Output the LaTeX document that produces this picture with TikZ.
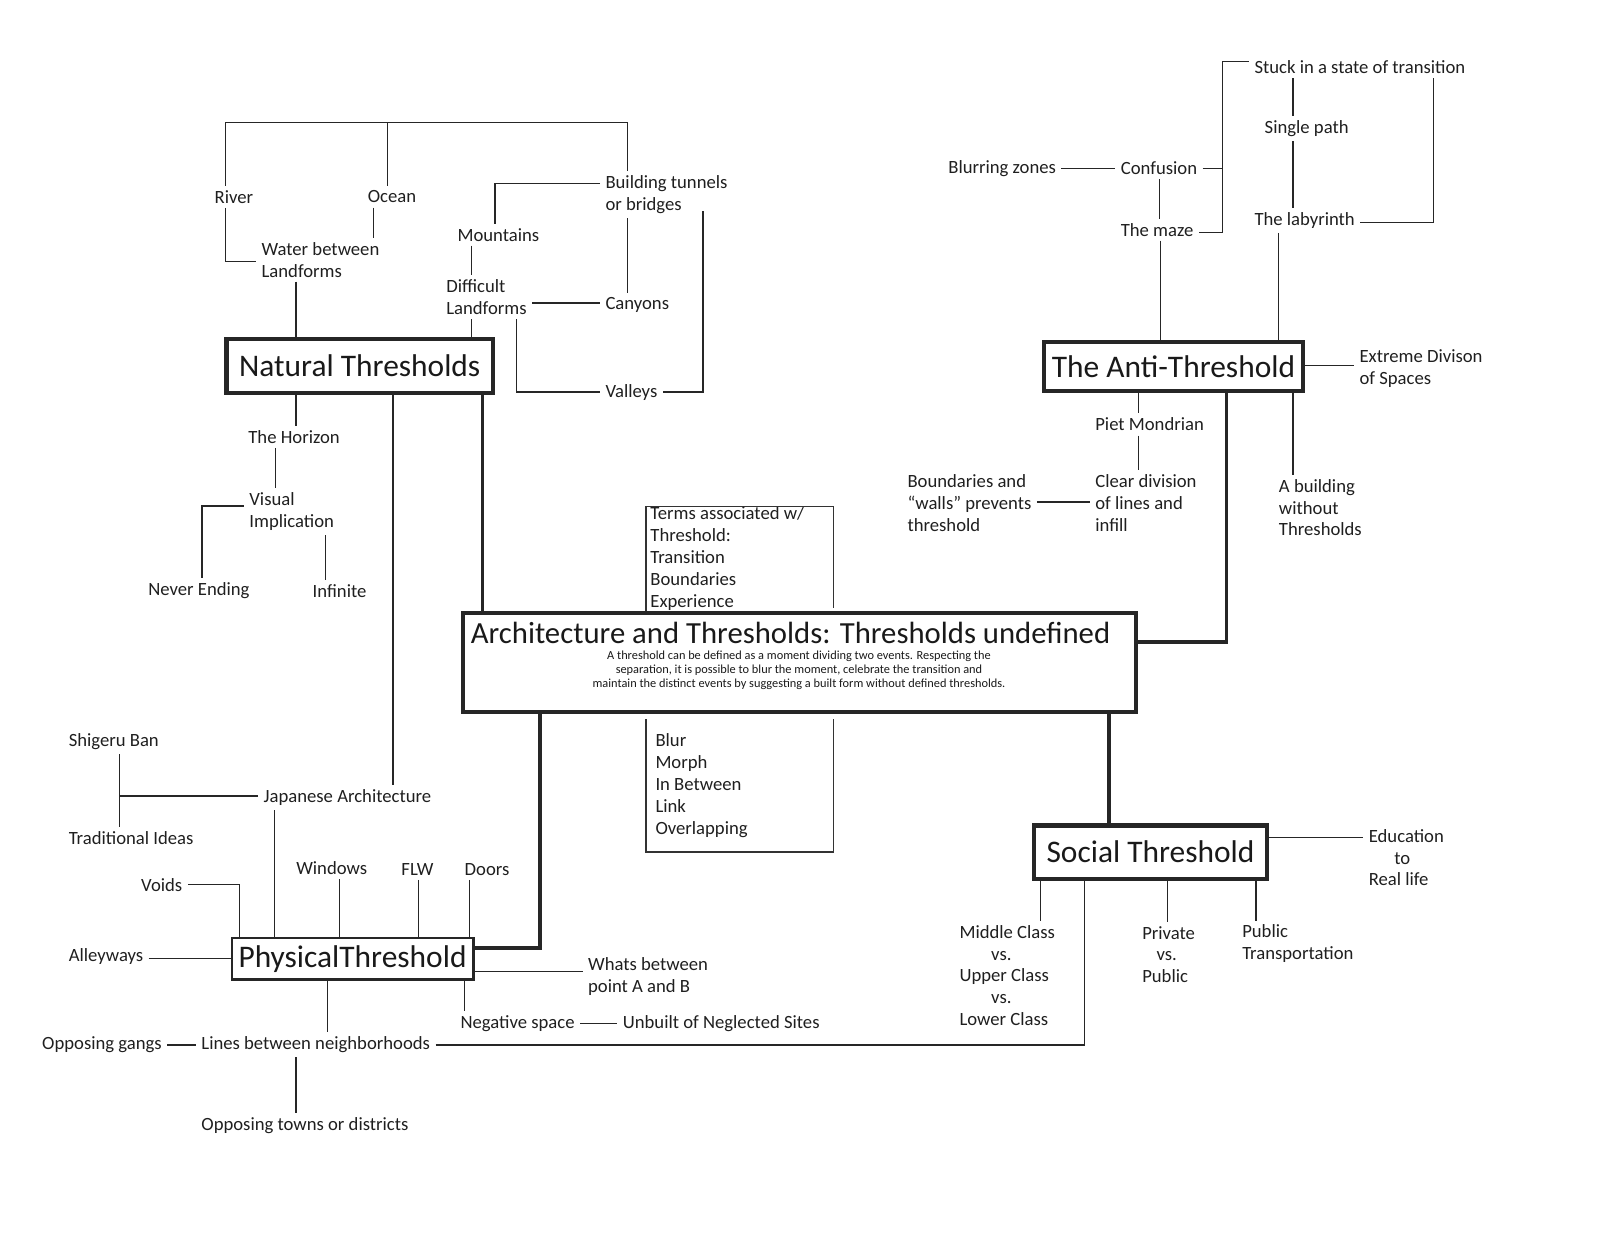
\documentclass[tikz,border=0pt]{standalone}
\usepackage{fontspec}
\setmainfont{Carlito}
\begin{document}
\begin{tikzpicture}[x=0.5pt,y=-0.5pt,
  lbl/.style={font=\fontsize{9.15}{10.7}\selectfont, inner xsep=2.5pt, inner ysep=2pt, xshift=-2.5pt, align=left, anchor=west, text=black!88},
  termtxt/.style={font=\fontsize{9.15}{10.7}\selectfont, inner sep=0pt, align=left, anchor=west, text=black!88},
  bigbox/.style={draw=black!85, line width=2pt, inner sep=0pt, font=\fontsize{15.4}{18}\selectfont, text=black!90},
  conn/.style={draw=black!85, line width=0.65pt},
  thickconn/.style={draw=black!85, line width=1.8pt},
  termline/.style={draw=black!80, line width=0.6pt}]
\useasboundingbox (0,0) rectangle (1568,1211.3);

% ---------- main boxes ----------
\node[bigbox, minimum width=130.5pt, minimum height=26.5pt] (nat) at (352.5,358.5) {Natural Thresholds};
\node[bigbox, minimum width=127pt, minimum height=24pt] (anti) at (1150,359) {The Anti-Threshold};
\node[bigbox, minimum width=329.5pt, minimum height=48.5pt] (main) at (783.5,649.5) {};
\node[font=\fontsize{15.05}{18}\selectfont, inner sep=0pt, anchor=west, text=black!90] (mainT) at (461,620) {Architecture and Thresholds: Thresholds undefined};
\node[font=\fontsize{6.05}{7}\selectfont, inner sep=0pt, align=center, text=black!90] (mainD) at (783,657) {A threshold can be defined as a moment dividing two events. Respecting the\\separation, it is possible to blur the moment, celebrate the transition and\\maintain the distinct events by suggesting a built form without defined thresholds.};
\node[bigbox, minimum width=114.5pt, minimum height=26pt] (social) at (1127.5,835) {Social Threshold};
\node[bigbox, line width=1.1pt, minimum width=118.5pt, minimum height=20.5pt] (phys) at (345.5,939.5) {PhysicalThreshold};

% ---------- terms boxes ----------
\node[termtxt] (terms) at (637,547.5) {Terms associated w/\\Threshold:\\Transition\\Boundaries\\Experience};
\node[termtxt] (blurlist) at (642,770) {Blur\\Morph\\In Between\\Link\\Overlapping};
\coordinate (tl) at (633,496);
\coordinate (tr) at (817,496);
\coordinate (bl) at (633,835);
\coordinate (br) at (817,835);
\draw[termline] (main.north -| tl) -- (tl) -- (tr) -- (817,596);
\draw[termline] (633,705) -- (bl) -- (br) -- (817,705);

% ---------- natural labels ----------
\node[lbl] (river) at (210,193) {River};
\node[lbl] (ocean) at (360,193) {Ocean};
\node[lbl] (water) at (256,254.5) {Water between\\Landforms};
\node[lbl] (mount) at (448,230) {Mountains};
\node[lbl] (diff) at (437,291.5) {Difficult\\Landforms};
\node[lbl] (build) at (593,191) {Building tunnels\\or bridges};
\node[lbl] (canyon) at (593,299) {Canyons};
\node[lbl] (valley) at (593,385) {Valleys};
\node[lbl] (horizon) at (243,428) {The Horizon};
\node[lbl] (visual) at (244,501.5) {Visual\\Implication};
\node[lbl] (never) at (145,579) {Never Ending};
\node[lbl] (infin) at (306,579) {Infinite};
\node[lbl] (jap) at (258,782) {Japanese Architecture};
\node[lbl] (shig) at (67,727) {Shigeru Ban};
\node[lbl] (trad) at (67,821) {Traditional Ideas};

% ---------- physical labels ----------
\node[lbl] (voids) at (138,867) {Voids};
\node[lbl] (windows) at (290,851) {Windows};
\node[lbl] (flw) at (393,852) {FLW};
\node[lbl] (doors) at (455,852) {Doors};
\node[lbl] (alley) at (67,937) {Alleyways};
\node[lbl] (whats) at (576,957) {Whats between\\point A and B};
\node[lbl] (neg) at (451,1003) {Negative space};
\node[lbl] (unbuilt) at (610,1003) {Unbuilt of Neglected Sites};
\node[lbl] (linesN) at (197,1024) {Lines between neighborhoods};
\node[lbl] (gangs) at (41,1024) {Opposing gangs};
\node[lbl] (towns) at (197,1103) {Opposing towns or districts};

% ---------- anti labels ----------
\node[lbl] (stuck) at (1229,66) {Stuck in a state of transition};
\node[lbl] (single) at (1239,126) {Single path};
\node[lbl] (blur) at (929,165) {Blurring zones};
\node[lbl] (conf) at (1098,165) {Confusion};
\node[lbl] (maze) at (1098,225) {The maze};
\node[lbl] (laby) at (1229,216) {The labyrinth};
\node[lbl] (extreme) at (1332,361.5) {Extreme Divison\\of Spaces};
\node[lbl] (piet) at (1073,416) {Piet Mondrian};
\node[lbl] (clear) at (1073,493) {Clear division\\of lines and\\infill};
\node[lbl] (bound) at (889,493) {Boundaries and\\“walls” prevents\\threshold};
\node[lbl] (abuild) at (1253,497.5) {A building\\without\\Thresholds};

% ---------- social labels ----------
\node[lbl] (educ) at (1341,840.5) {Education\\\hspace*{12.5pt}to\\Real life};
\node[lbl] (middle) at (940,956) {Middle Class\\\hspace*{15.5pt}vs.\\Upper Class\\\hspace*{15.5pt}vs.\\Lower Class};
\node[lbl] (private) at (1119,935.5) {Private\\\hspace*{7pt}vs.\\Public};
\node[lbl] (pubtr) at (1217,925) {Public\\Transportation};

% ---------- thick connectors ----------
\draw[thickconn] (nat.south -| 473,0) -- (main.north -| 473,0);
\draw[thickconn] (anti.south -| 1202,0) -- (1202,629) -- (main.east |- 0,629);
\draw[thickconn] (main.south -| 529,0) -- (529,929) -- (phys.east |- 0,929);
\draw[thickconn] (main.south -| 1087,0) -- (social.north -| 1087,0);

% ---------- natural connectors ----------
\draw[conn] (river.north -| 221,0) -- (221,120) -- (615,120) -- (build.north -| 615,0);
\draw[conn] (380,120) -- (ocean.north -| 380,0);
\draw[conn] (river.south -| 221,0) -- (221,256) -- (water.west |- 0,256);
\draw[conn] (ocean.south -| 366,0) -- (water.north -| 366,0);
\draw[conn] (water.south -| 290,0) -- (nat.north -| 290,0);
\draw[conn] (build.west |- 0,180) -- (485,180) -- (mount.north -| 485,0);
\draw[conn] (mount.south -| 462,0) -- (diff.north -| 462,0);
\draw[conn] (diff.south -| 462,0) -- (nat.north -| 462,0);
\draw[conn] (diff.east |- 0,297) -- (canyon.west |- 0,297);
\draw[conn] (build.south -| 615,0) -- (canyon.north -| 615,0);
\draw[conn] (diff.south -| 506,0) -- (506,384) -- (valley.west |- 0,384);
\draw[conn] (689,207) -- (689,384) -- (valley.east |- 0,384);
\draw[conn] (nat.south -| 290,0) -- (horizon.north -| 290,0);
\draw[conn] (horizon.south -| 270,0) -- (visual.north -| 270,0);
\draw[conn] (visual.west |- 0,496) -- (198,496) -- (never.north -| 198,0);
\draw[conn] (visual.south -| 319,0) -- (infin.north -| 319,0);
\draw[conn] (nat.south -| 385,0) -- (jap.north -| 385,0);
\draw[conn] (jap.west |- 0,780) -- (117,780);
\draw[conn] (shig.south -| 117,0) -- (trad.north -| 117,0);
\draw[conn] (jap.south -| 269,0) -- (phys.north -| 269,0);

% ---------- physical connectors ----------
\draw[conn] (voids.east |- 0,867) -- (235,867) -- (phys.north -| 235,0);
\draw[conn] (windows.south -| 333,0) -- (phys.north -| 333,0);
\draw[conn] (flw.south -| 410,0) -- (phys.north -| 410,0);
\draw[conn] (doors.south -| 460,0) -- (phys.north -| 460,0);
\draw[conn] (alley.east |- 0,939) -- (phys.west |- 0,939);
\draw[conn] (phys.east |- 0,952) -- (whats.west |- 0,952);
\draw[conn] (phys.south -| 455,0) -- (neg.north -| 455,0);
\draw[conn] (neg.east) -- (unbuilt.west);
\draw[conn] (phys.south -| 321,0) -- (linesN.north -| 321,0);
\draw[conn] (gangs.east) -- (linesN.west);
\draw[conn] (linesN.south -| 290,0) -- (towns.north -| 290,0);
\draw[conn] (linesN.east) -- (1063,1024) -- (social.south -| 1063,0);

% ---------- anti connectors ----------
\draw[conn] (stuck.west |- 0,60) -- (1198,60) -- (1198,228) -- (maze.east |- 0,228);
\draw[conn] (conf.east) -- (conf.east -| 1198,0);
\draw[conn] (blur.east) -- (conf.west);
\draw[conn] (conf.south -| 1136,0) -- (maze.north -| 1136,0);
\draw[conn] (maze.south -| 1137,0) -- (anti.north -| 1137,0);
\draw[conn] (stuck.south -| 1267,0) -- (single.north -| 1267,0);
\draw[conn] (single.south -| 1267,0) -- (laby.north -| 1267,0);
\draw[conn] (stuck.south -| 1405,0) -- (1405,218) -- (laby.east |- 0,218);
\draw[conn] (laby.south -| 1253,0) -- (anti.north -| 1253,0);
\draw[conn] (anti.east |- 0,358) -- (extreme.west |- 0,358);
\draw[conn] (anti.south -| 1116,0) -- (piet.north -| 1116,0);
\draw[conn] (piet.south -| 1116,0) -- (clear.north -| 1116,0);
\draw[conn] (bound.east |- 0,492) -- (clear.west |- 0,492);
\draw[conn] (anti.south -| 1267,0) -- (abuild.north -| 1267,0);

% ---------- social connectors ----------
\draw[conn] (social.east |- 0,821) -- (educ.west |- 0,821);
\draw[conn] (social.south -| 1020,0) -- (middle.north -| 1020,0);
\draw[conn] (social.south -| 1144,0) -- (private.north -| 1144,0);
\draw[conn] (social.south -| 1231,0) -- (pubtr.north -| 1231,0);
\end{tikzpicture}
\end{document}
